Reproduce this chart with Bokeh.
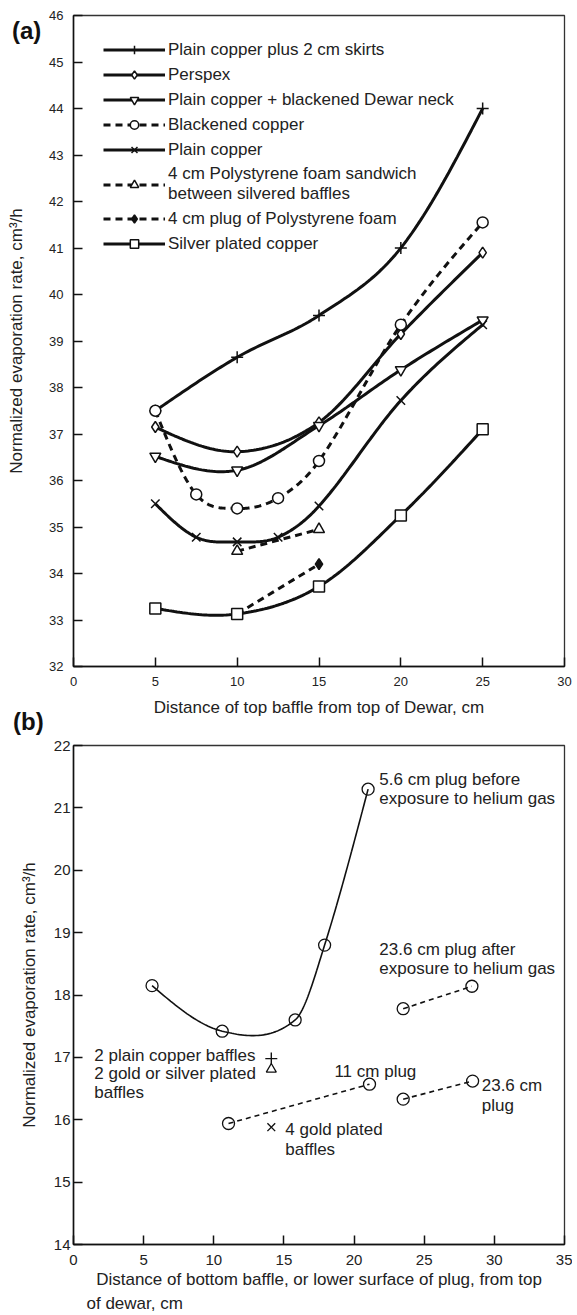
import numpy as np
from bokeh.plotting import figure
from bokeh.layouts import column
from bokeh.models import Legend, LegendItem, Title, FixedTicker, Range1d, Div
from bokeh.embed import file_html
from bokeh.resources import INLINE
from bokeh.core.properties import value

FONT = "Liberation Sans"
INK = "#111111"
TXT = "#222222"
BIG = "17px"

# ---------------- Panel (a) data ----------------
a_x_ticks = [0, 5, 10, 15, 20, 25, 30]
a_y_ticks = list(range(32, 47))

a_names = [
    "Plain copper plus 2 cm skirts",
    "Perspex",
    "Plain copper + blackened Dewar neck",
    "Blackened copper",
    "Plain copper",
    "4 cm Polystyrene foam sandwich\nbetween silvered baffles",
    "4 cm plug of Polystyrene foam",
    "Silver plated copper",
]
a_x_skirts = [5, 10, 15, 20, 25]
a_y_skirts = [37.5, 38.65, 39.55, 41.0, 44.0]
a_x_perspex = [5, 10, 15, 20, 25]
a_y_perspex = [37.15, 36.62, 37.25, 39.15, 40.9]
a_x_neck = [5, 10, 15, 20, 25]
a_y_neck = [36.52, 36.22, 37.18, 38.38, 39.45]
a_x_black = [5, 7.5, 10, 12.5, 15, 20, 25]
a_y_black = [37.5, 35.7, 35.4, 35.62, 36.42, 39.35, 41.55]
a_x_plain = [5, 7.5, 10, 12.5, 15, 20, 25]
a_y_plain = [35.5, 34.78, 34.68, 34.78, 35.45, 37.72, 39.35]
a_x_sandwich = [10, 15]
a_y_sandwich = [34.48, 34.95]
a_x_plug = [10, 15]
a_y_plug = [33.13, 34.2]
a_x_silver = [5, 10, 15, 20, 25]
a_y_silver = [33.25, 33.13, 33.72, 35.25, 37.1]

# ---------------- Panel (b) data ----------------
b_x_ticks = [0, 5, 10, 15, 20, 25, 30, 35]
b_y_ticks = list(range(14, 23))
b_x_before = [5.6, 10.6, 15.8, 17.9, 21.0]
b_y_before = [18.15, 17.42, 17.6, 18.8, 21.3]
b_x_after = [23.5, 28.4]
b_y_after = [17.78, 18.14]
b_x_plug11 = [11.05, 21.1]
b_y_plug11 = [15.94, 16.57]
b_x_plug236 = [23.5, 28.45]
b_y_plug236 = [16.33, 16.62]
b_x_copper2 = [14.1]
b_y_copper2 = [16.98]
b_x_plated2 = [14.1]
b_y_plated2 = [16.81]
b_x_gold4 = [14.1]
b_y_gold4 = [15.88]
b_notes = ["5.6 cm plug before", "exposure to helium gas",
           "23.6 cm plug after", "exposure to helium gas",
           "2 plain copper baffles", "2 gold or silver plated", "baffles",
           "11 cm plug", "23.6 cm", "plug", "4 gold plated", "baffles"]
b_notes_x = [21.8, 21.8, 21.8, 21.8, 1.48, 1.48, 1.48, 18.6, 29.1, 29.1, 15.1, 15.1]
b_notes_y = [21.45, 21.15, 18.73, 18.42, 17.03, 16.74, 16.44, 16.78, 16.55, 16.23, 15.85, 15.53]

Y_LABEL = "Normalized evaporation rate, cm\u00b3/h"
PANEL_TAGS = ["(a)", "(b)"]


def smooth(xs, ys, n=30):
    """Piecewise cubic Hermite curve through the data points (Catmull-Rom tangents)."""
    x = np.asarray(xs, float)
    y = np.asarray(ys, float)
    k = len(x)
    if k < 3:
        return x, y
    d = np.diff(y) / np.diff(x)
    m = np.zeros(k)
    m[1:-1] = (y[2:] - y[:-2]) / (x[2:] - x[:-2])
    m[0] = (3 * d[0] - m[1]) / 2
    m[-1] = (3 * d[-1] - m[-2]) / 2
    out_x, out_y = [], []
    for i in range(k - 1):
        h = x[i + 1] - x[i]
        t = np.linspace(0, 1, n, endpoint=(i == k - 2))
        h00 = 2 * t ** 3 - 3 * t ** 2 + 1
        h10 = t ** 3 - 2 * t ** 2 + t
        h01 = -2 * t ** 3 + 3 * t ** 2
        h11 = t ** 3 - t ** 2
        out_x.append(x[i] + t * h)
        out_y.append(h00 * y[i] + h10 * h * m[i] + h01 * y[i + 1] + h11 * h * m[i + 1])
    return np.concatenate(out_x), np.concatenate(out_y)


def style_axes(p, tick_size, ylab_standoff, xlab_standoff, ytick_standoff, xtick_standoff):
    for ax in (p.xaxis[0], p.yaxis[0]):
        ax.major_tick_in = 9
        ax.major_tick_out = 0
        ax.minor_tick_line_color = None
        ax.axis_line_color = INK
        ax.axis_line_width = 1.5
        ax.major_tick_line_color = INK
        ax.major_tick_line_width = 1.5
        ax.major_label_text_font = FONT
        ax.major_label_text_font_size = tick_size
        ax.major_label_text_color = TXT
        ax.axis_label_text_font = FONT
        ax.axis_label_text_font_size = BIG
        ax.axis_label_text_font_style = "normal"
        ax.axis_label_text_color = TXT
    p.yaxis[0].axis_label_standoff = ylab_standoff
    p.xaxis[0].axis_label_standoff = xlab_standoff
    p.yaxis[0].major_label_standoff = ytick_standoff
    p.xaxis[0].major_label_standoff = xtick_standoff
    p.xgrid.grid_line_color = None
    p.ygrid.grid_line_color = None
    p.outline_line_color = "#333333"
    p.outline_line_width = 1.3


# ================= Figure (a) =================
pa = figure(width=572, height=734, output_backend="svg", toolbar_location=None,
            x_range=Range1d(0, 30), y_range=Range1d(32, 46),
            min_border_left=73, min_border_right=8, min_border_top=15, min_border_bottom=68)
pa.xaxis.ticker = FixedTicker(ticks=a_x_ticks)
pa.yaxis.ticker = FixedTicker(ticks=a_y_ticks)
pa.xaxis.axis_label = "Distance of top baffle from top of Dewar, cm"
pa.yaxis.axis_label = Y_LABEL
style_axes(pa, "13px", 20, 9, 10, 10)

LW = 3
series = [
    (a_x_skirts, a_y_skirts, "solid", "cross", 12, INK),
    (a_x_perspex, a_y_perspex, "solid", "diamond", 11, "white"),
    (a_x_neck, a_y_neck, "solid", "inverted_triangle", 11, "white"),
    (a_x_black, a_y_black, "7 5", "circle", 11, "white"),
    (a_x_plain, a_y_plain, "solid", "x", 12, INK),
    (a_x_sandwich, a_y_sandwich, "7 5", "triangle", 11, "white"),
    (a_x_plug, a_y_plug, "7 5", "diamond", 11, INK),
    (a_x_silver, a_y_silver, "solid", "square", 11, "white"),
]
line_rs = []
for xs, ys, dash, mk, sz, fill in series:
    sx, sy = smooth(xs, ys)
    line_rs.append(pa.line(sx, sy, line_color=INK, line_width=LW, line_dash=dash))
items = []
for (xs, ys, dash, mk, sz, fill), lr, name in zip(series, line_rs, a_names):
    sr = pa.scatter(xs, ys, marker=mk, size=sz, line_color=INK, line_width=1.5,
                    fill_color=fill)
    items.append(LegendItem(label=name, renderers=[lr, sr]))

legend = Legend(items=items, location=(30, 412), glyph_width=62, glyph_height=21,
                label_height=21, label_standoff=3, spacing=4, padding=5, margin=0,
                border_line_color=None, background_fill_alpha=0,
                label_text_font=FONT, label_text_font_size=BIG, label_text_color=TXT)
pa.add_layout(legend)

# ================= Figure (b) =================
pb = figure(width=572, height=581, output_backend="svg", toolbar_location=None,
            x_range=Range1d(0, 35), y_range=Range1d(14, 22),
            min_border_left=60, min_border_right=8, min_border_top=11, min_border_bottom=71)
pb.xaxis.ticker = FixedTicker(ticks=b_x_ticks)
pb.yaxis.ticker = FixedTicker(ticks=b_y_ticks)
pb.xaxis.axis_label = "Distance of bottom baffle, or lower surface of plug, from top"
pb.yaxis.axis_label = Y_LABEL
style_axes(pb, "15px", 12, 2, 3, 10)

sx, sy = smooth(b_x_before, b_y_before)
pb.line(sx, sy, line_color=INK, line_width=1.6)
for xs, ys in ((b_x_after, b_y_after), (b_x_plug11, b_y_plug11), (b_x_plug236, b_y_plug236)):
    pb.line(xs, ys, line_color=INK, line_width=1.6, line_dash="5 4")
for xs, ys in ((b_x_before, b_y_before), (b_x_after, b_y_after),
               (b_x_plug11, b_y_plug11), (b_x_plug236, b_y_plug236)):
    pb.scatter(xs, ys, marker="circle", size=12, line_color=INK, line_width=1.3,
               fill_alpha=0)
pb.scatter(b_x_copper2, b_y_copper2, marker="cross", size=12, line_color=INK, line_width=1.4)
pb.scatter(b_x_plated2, b_y_plated2, marker="triangle", size=10, line_color=INK,
           line_width=1.3, fill_alpha=0)
pb.scatter(b_x_gold4, b_y_gold4, marker="x", size=11, line_color=INK, line_width=1.4)

pb.text(x=b_notes_x, y=b_notes_y, text=b_notes, text_font=value(FONT),
        text_font_size=value(BIG), text_color=TXT, text_align="left",
        text_baseline="middle")

pb.add_layout(Title(text="of dewar, cm", align="left", offset=13, standoff=0,
                    text_font=FONT, text_font_size=BIG, text_font_style="normal",
                    text_color=TXT), "below")

# panel tags, overlaid at the top-left of each panel
tags = []
for tag, top, left in zip(PANEL_TAGS, (12, 703), (7, 8)):
    tags.append(Div(text=tag, width=40, height=30,
                    styles={"position": "absolute", "left": f"{left}px", "top": f"{top}px",
                            "z-index": "10", "font-family": FONT, "font-size": "24px",
                            "font-weight": "bold", "color": INK, "line-height": "1.2"}))

layout = column(pa, pb, *tags, spacing=0)
open("out.html", "w").write(file_html(layout, INLINE))
